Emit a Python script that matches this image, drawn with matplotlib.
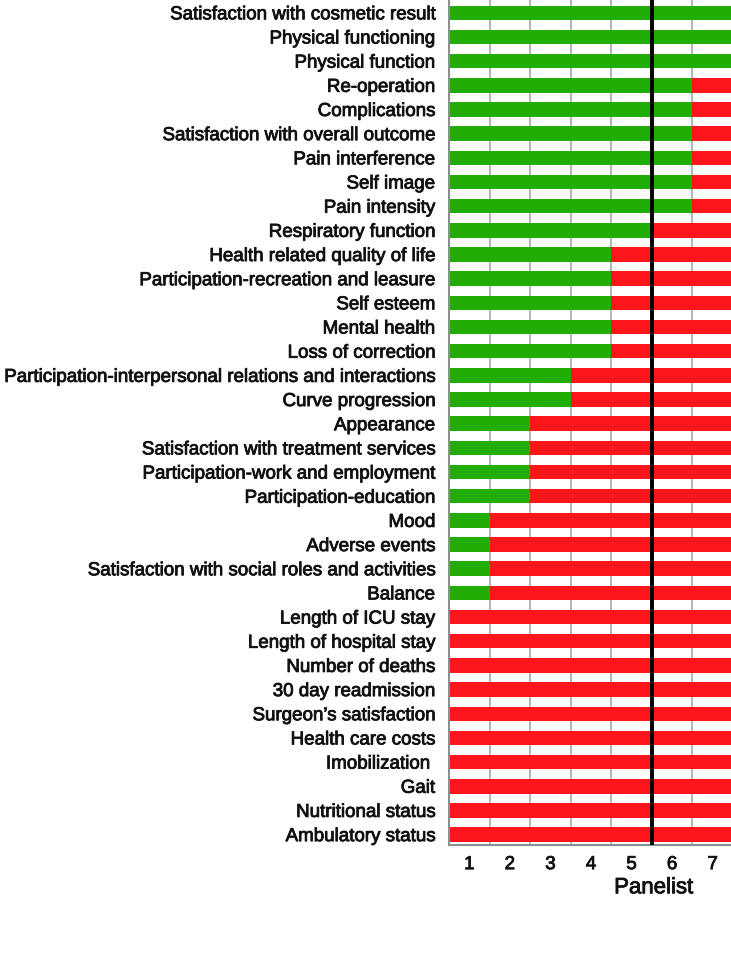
#!/usr/bin/env python3

import matplotlib.pyplot as plt
import matplotlib.patheffects as pe
import numpy as np

plt.rcParams["font.family"] = ["Liberation Sans", "DejaVu Sans"]

# outcomes, top to bottom
outcomes = [
    "Satisfaction with cosmetic result",
    "Physical functioning",
    "Physical function",
    "Re-operation",
    "Complications",
    "Satisfaction with overall outcome",
    "Pain interference",
    "Self image",
    "Pain intensity",
    "Respiratory function",
    "Health related quality of life",
    "Participation-recreation and leasure",
    "Self esteem",
    "Mental health",
    "Loss of correction",
    "Participation-interpersonal relations and interactions",
    "Curve progression",
    "Appearance",
    "Satisfaction with treatment services",
    "Participation-work and employment",
    "Participation-education",
    "Mood",
    "Adverse events",
    "Satisfaction with social roles and activities",
    "Balance",
    "Length of ICU stay",
    "Length of hospital stay",
    "Number of deaths",
    "30 day readmission",
    "Surgeon\u2019s satisfaction",
    "Health care costs",
    "Imobilization ",
    "Gait",
    "Nutritional status",
    "Ambulatory status",
]

# number of panelists (of 7) voting to include each outcome
included = [7, 7, 7, 6, 6, 6, 6, 6, 6, 5, 4, 4, 4, 4, 4, 3, 3, 2, 2, 2, 2,
            1, 1, 1, 1, 0, 0, 0, 0, 0, 0, 0, 0, 0, 0]
n_panelists = 7
panelist_labels = ["1", "2", "3", "4", "5", "6", "7"]
threshold = 5

green = "#22ac06"
red = "#fd151c"
bold_fx = [pe.withStroke(linewidth=0.6, foreground="#111111")]

fig = plt.figure(figsize=(7.31, 9.64), dpi=100)
ax = fig.add_axes([449 / 731, 1 - 845 / 964, 284 / 731, 845 / 964])

y = np.arange(len(outcomes))
inc = np.array(included)
exc = n_panelists - inc

ax.barh(y, inc, height=0.6, color=green, zorder=2)
ax.barh(y, exc, left=inc, height=0.6, color=red, zorder=2)

for b in range(1, n_panelists):
    ax.axvline(b, color="#a3aaaa", lw=1.2, zorder=1)
ax.axvline(threshold, color="black", lw=2.8, zorder=3)

ax.set_xlim(0, n_panelists)
ax.set_ylim(len(outcomes) - 0.57, -0.53)
ax.set_yticks(y, outcomes, fontsize=13.5, color="#111111")
ax.set_xticks(np.arange(n_panelists) + 0.5, panelist_labels, fontsize=13.5,
              color="#111111")
for lab in ax.get_yticklabels() + ax.get_xticklabels():
    lab.set_path_effects(bold_fx)
ax.tick_params(axis="both", length=0)
ax.tick_params(axis="y", pad=10)
ax.tick_params(axis="x", pad=8)

for side in ["left", "bottom"]:
    ax.spines[side].set_color("#8a9090")
    ax.spines[side].set_linewidth(1.5)
for side in ["top", "right"]:
    ax.spines[side].set_visible(False)

ax.text(threshold + 0.05, len(outcomes) + 1.2, "Panelist", ha="center",
        va="center", fontsize=16, color="#111111", path_effects=bold_fx)

fig.savefig("out.png", dpi=100)
